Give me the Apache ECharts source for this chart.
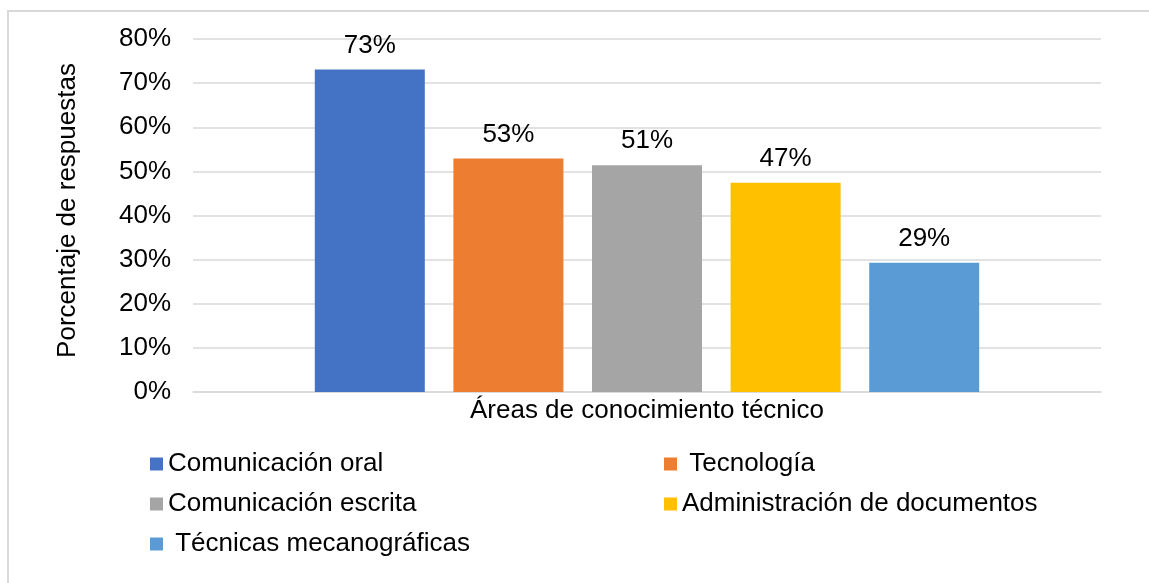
<!DOCTYPE html>
<html>
<head>
<meta charset="utf-8">
<script src="https://cdn.jsdelivr.net/npm/echarts@6/dist/echarts.min.js"></script>
<style>
  html, body { margin: 0; padding: 0; background: #fff; overflow: hidden; }
  .frame {
    position: absolute;
    left: 7px; top: 10px; right: -10px; bottom: -10px;
    border-top: 2px solid #d9d9d9;
    border-left: 2px solid #d9d9d9;
  }
  #chart { position: absolute; left: 0; top: 0; width: 1149px; height: 583px; }
</style>
</head>
<body>
<div class="frame"></div>
<div id="chart"></div>
<script>
const category = ['Áreas de conocimiento técnico']
const seriesNames = [
  'Comunicación oral',
  ' Tecnología',
  'Comunicación escrita',
  'Administración de documentos',
  ' Técnicas mecanográficas'
]
const seriesValues = [73.1, 52.9, 51.4, 47.4, 29.3]
const seriesColors = ['#4472c4', '#ed7d31', '#a5a5a5', '#ffc000', '#5b9bd5']
const yTicks = [0, 10, 20, 30, 40, 50, 60, 70, 80]

const FONT = 'Liberation Sans, Arial, sans-serif'
const chart = echarts.init(document.getElementById('chart'))

const legendBase = {
  orient: 'vertical',
  icon: 'rect',
  padding: 0,
  itemWidth: 13,
  itemHeight: 13,
  itemGap: 14,
  selectedMode: false,
  textStyle: { fontFamily: FONT, fontSize: 26, color: '#000', lineHeight: 26, padding: 0 }
}

chart.setOption({
  animation: false,
  grid: { left: 193, right: 48, top: 39, bottom: 191 },
  legend: [
    Object.assign({}, legendBase, { left: 150, top: 451, data: [seriesNames[0], seriesNames[2], seriesNames[4]] }),
    Object.assign({}, legendBase, { left: 664, top: 451, data: [seriesNames[1], seriesNames[3]] })
  ],
  xAxis: {
    type: 'category',
    data: category,
    axisLine: { lineStyle: { color: '#d9d9d9', width: 1.5 } },
    axisTick: { show: false },
    axisLabel: { fontFamily: FONT, fontSize: 26, color: '#000', margin: 6 }
  },
  yAxis: {
    type: 'value',
    min: yTicks[0],
    max: yTicks[yTicks.length - 1],
    interval: 10,
    name: 'Porcentaje de respuestas',
    nameLocation: 'middle',
    nameGap: 112,
    nameTextStyle: { fontFamily: FONT, fontSize: 26, color: '#000', padding: [0, 0, 0, 10] },
    axisLine: { show: false },
    axisTick: { show: false },
    axisLabel: { fontFamily: FONT, fontSize: 26, color: '#000', margin: 22, formatter: (v) => v + '%' },
    splitLine: { lineStyle: { color: '#d9d9d9', width: 1.5 } }
  },
  series: seriesNames.map((name, i) => ({
    name: name,
    type: 'bar',
    barWidth: 110,
    barGap: '26%',
    itemStyle: { color: seriesColors[i] },
    label: {
      show: true,
      position: 'top',
      distance: 11,
      fontFamily: FONT,
      fontSize: 26,
      color: '#000',
      formatter: (p) => Math.round(p.value) + '%'
    },
    data: [seriesValues[i]]
  }))
})
</script>
</body>
</html>
